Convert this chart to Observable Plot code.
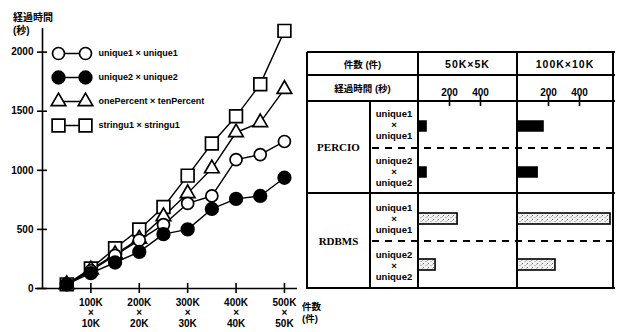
<!DOCTYPE html>
<html><head><meta charset="utf-8">
<script src="https://cdn.jsdelivr.net/npm/d3@7"></script>
<script src="https://cdn.jsdelivr.net/npm/@observablehq/plot@0.6"></script>
<style>
body{margin:0;background:#fff;}
#c{position:relative;width:620px;height:332px;overflow:hidden;background:#fff;font-family:"Liberation Sans","Noto Sans CJK JP",sans-serif;color:#000;}
#c svg{position:absolute;}
.t{position:absolute;white-space:pre;text-align:center;transform:translate(-50%,-50%);font-weight:bold;}
.h{position:absolute;height:1.6px;background:#000;}
.v{position:absolute;width:1.6px;background:#000;}
.d{position:absolute;height:2px;background:repeating-linear-gradient(to right,#000 0 7px,transparent 7px 13px);}
</style></head><body><div id="c"></div>
<script>
// ---------- data: left line chart ----------
const xRecords = [50, 100, 150, 200, 250, 300, 350, 400, 450, 500]; // thousand records
const unique1Times   = [35, 150, 280, 410, 540, 720, 783, 1090, 1133, 1244];
const unique2Times   = [35, 130, 220, 310, 460, 500, 673, 758, 783, 937];
const onePercentTimes = [35, 160, 290, 420, 610, 805, 1015, 1320, 1405, 1687];
const stringu1Times  = [35, 170, 340, 500, 690, 955, 1227, 1457, 1729, 2180];
const seriesNames = ["unique1 × unique1", "unique2 × unique2", "onePercent × tenPercent", "stringu1 × stringu1"];
const yTicks = [0, 500, 1000, 1500, 2000];
const xTicks = [100, 200, 300, 400, 500];
const xTickLabels = ["100K\n×\n10K", "200K\n×\n20K", "300K\n×\n30K", "400K\n×\n40K", "500K\n×\n50K"];

// ---------- data: right table ----------
const sizes = ["50K×5K", "100K×10K"];
const systems = ["PERCIO", "RDBMS"];
const queries = ["unique1\n×\nunique1", "unique2\n×\nunique2"];
const percio50K = [52, 52];
const percio100K = [168, 130];
const rdbms50K = [252, 110];
const rdbms100K = [600, 245];
const barTicks = [200, 400];

const root = document.getElementById("c");
const FONT = "'Liberation Sans','Noto Sans CJK JP',sans-serif";

// ---------- left chart ----------
const W1 = 320, H1 = 332, mL = 42, mR = 23, mT = 28, mB = 44;
const frameW = W1 - mL - mR, frameH = H1 - mT - mB;
const seriesValues = [unique1Times, unique2Times, onePercentTimes, stringu1Times];
const rows = [];
seriesNames.forEach((name, si) => seriesValues[si].forEach((v, i) => rows.push({series: name, x: xRecords[i], y: v})));
const styleOf = {
  "unique1 × unique1": {symbol: "circle", r: 6, fill: "white"},
  "unique2 × unique2": {symbol: "circle", r: 6.3, fill: "black"},
  "onePercent × tenPercent": {symbol: "triangle", r: 5.4, fill: "white"},
  "stringu1 × stringu1": {symbol: "square", r: 7.2, fill: "white"}
};
const drawOrder = ["stringu1 × stringu1", "onePercent × tenPercent", "unique1 × unique1", "unique2 × unique2"];

const left = Plot.plot({
  width: W1, height: H1, marginLeft: mL, marginRight: mR, marginTop: mT, marginBottom: mB,
  x: {domain: [0, 527], axis: null},
  y: {domain: [0, 2200], axis: null},
  style: {background: "transparent", fontFamily: FONT, overflow: "visible"},
  marks: [
    Plot.ruleX([0], {stroke: "black", strokeWidth: 1.6}),
    Plot.ruleY([0], {stroke: "black", strokeWidth: 1.6, insetLeft: -7}),
    Plot.ruleY(yTicks, {insetLeft: -5, insetRight: frameW - 5, stroke: "black", strokeWidth: 1.6}),
    Plot.text(yTicks, {y: d => d, text: d => String(d), frameAnchor: "left", dx: -9, textAnchor: "end", fontSize: 10, fontWeight: "bold", fill: "black"}),
    Plot.ruleX(xTicks, {insetTop: frameH - 5, insetBottom: -5, stroke: "black", strokeWidth: 1.6}),
    Plot.text(xTicks, {x: d => d, text: (d, i) => xTickLabels[i], frameAnchor: "bottom", dy: 10, lineAnchor: "top", lineHeight: 1.05, fontSize: 10, fontWeight: "bold", fill: "black"}),
    Plot.line(rows, {x: "x", y: "y", z: "series", stroke: "black", strokeWidth: 1.4}),
    ...drawOrder.map(name => Plot.dot(rows.filter(r => r.series === name), {
      x: "x", y: "y", symbol: styleOf[name].symbol, r: styleOf[name].r,
      fill: styleOf[name].fill, stroke: "black", strokeWidth: 1.7
    }))
  ]
});
left.style.left = "0px"; left.style.top = "0px";
root.appendChild(left);

// legend (its own small plot)
const legRows = [];
seriesNames.forEach(name => { legRows.push({series: name, x: 0}); legRows.push({series: name, x: 1}); });
const legend = Plot.plot({
  width: 320, height: 140, marginLeft: 58, marginRight: 235, marginTop: 53, marginBottom: 15,
  x: {domain: [0, 1], axis: null},
  y: {type: "point", domain: seriesNames, padding: 0, axis: null},
  style: {background: "transparent", fontFamily: FONT, overflow: "visible"},
  marks: [
    Plot.line(legRows, {x: "x", y: "series", z: "series", stroke: "black", strokeWidth: 1.4}),
    ...seriesNames.map(name => Plot.dot(legRows.filter(r => r.series === name), {
      x: "x", y: "series", symbol: styleOf[name].symbol, r: styleOf[name].r,
      fill: styleOf[name].fill, stroke: "black", strokeWidth: 1.7
    })),
    Plot.text(seriesNames, {x: () => 1, y: d => d, text: d => d, dx: 13, textAnchor: "start", fontSize: 9, fontWeight: "bold", fill: "black"})
  ]
});
legend.style.left = "0px"; legend.style.top = "0px";
root.appendChild(legend);

function addText(txt, x, y, extra) {
  const el = document.createElement("div");
  el.className = "t";
  el.textContent = txt;
  el.style.left = x + "px"; el.style.top = y + "px";
  Object.assign(el.style, extra || {});
  root.appendChild(el);
  return el;
}
// left axis titles
addText("経過時間\n(秒)", 13, 11, {transform: "none", textAlign: "left", fontSize: "10px", lineHeight: "13px"});
addText("件数\n(件)", 302, 301, {transform: "none", textAlign: "left", fontSize: "9.5px", lineHeight: "12px"});

// ---------- right table ----------
const T = {left: 307, right: 613, top: 52, r1: 75, r2: 101, mid: 193, bottom: 288, c1: 370, c2: 418, c3: 517};
const pxPerUnit = 0.155;
const colDefs = [
  {size: sizes[0], left: T.c2, width: T.c3 - T.c2, percio: percio50K, rdbms: rdbms50K},
  {size: sizes[1], left: T.c3, width: T.right - T.c3, percio: percio100K, rdbms: rdbms100K}
];
const keys = [];
systems.forEach(s => queries.forEach((q, qi) => keys.push(s + "|" + qi)));

colDefs.forEach((col, ci) => {
  const data = [];
  col.percio.forEach((v, qi) => data.push({system: "PERCIO", key: "PERCIO|" + qi, value: v}));
  col.rdbms.forEach((v, qi) => data.push({system: "RDBMS", key: "RDBMS|" + qi, value: v}));
  const pid = "stip" + ci;
  const h = T.bottom - T.r1;
  const mTop = T.r2 - T.r1;
  const fh = h - mTop;
  const svg = Plot.plot({
    width: col.width, height: h, marginLeft: 0, marginRight: 0, marginTop: mTop, marginBottom: 0,
    x: {domain: [0, col.width / pxPerUnit], axis: null},
    y: {type: "band", domain: keys, padding: 0, axis: null},
    style: {background: "transparent", fontFamily: FONT, overflow: "visible"},
    marks: [
      Plot.ruleX(barTicks, {insetTop: -6, insetBottom: fh - 5, stroke: "black", strokeWidth: 1.6}),
      Plot.text(barTicks, {x: d => d, text: d => String(d), frameAnchor: "top", dy: -13, fontSize: 10, fontWeight: "bold", fill: "black"}),
      Plot.barX(data.filter(d => d.system === "PERCIO"), {x: "value", y: "key", fill: "black", stroke: "black", strokeWidth: 1.5, insetTop: 18, insetBottom: 18}),
      Plot.barX(data.filter(d => d.system === "RDBMS"), {x: "value", y: "key", fill: `url(#${pid})`, stroke: "black", strokeWidth: 1.6, insetTop: 18, insetBottom: 17})
    ]
  });
  const ns = "http://www.w3.org/2000/svg";
  const defs = document.createElementNS(ns, "defs");
  defs.innerHTML = `<pattern id="${pid}" width="5" height="4" patternUnits="userSpaceOnUse">
    <rect width="5" height="4" fill="#f2f2f2"/>
    <rect x="0" y="0" width="1" height="1" fill="#6a6a6a"/>
    <rect x="2.5" y="2" width="1" height="1" fill="#8a8a8a"/>
    <rect x="4" y="1" width="1" height="1" fill="#b0b0b0"/></pattern>`;
  svg.insertBefore(defs, svg.firstChild);
  svg.style.left = col.left + "px"; svg.style.top = T.r1 + "px";
  root.appendChild(svg);
  addText(col.size, col.left + col.width / 2, (T.top + T.r1) / 2, {fontSize: "10.5px", letterSpacing: "1px"});
});

// header texts
addText("件数 (件)", (T.left + T.c2) / 2, (T.top + T.r1) / 2, {fontSize: "9.5px"});
addText("経過時間 (秒)", (T.left + T.c2) / 2, (T.r1 + T.r2) / 2, {fontSize: "9.5px"});
// system labels
addText(systems[0], (T.left + T.c1) / 2, (T.r2 + T.mid) / 2, {fontFamily: "'Liberation Serif',serif", fontSize: "11px"});
addText(systems[1], (T.left + T.c1) / 2, (T.mid + T.bottom) / 2, {fontFamily: "'Liberation Serif',serif", fontSize: "11px"});
// query labels
const rowH = (T.bottom - T.r2) / 4;
keys.forEach((k, i) => {
  const qi = +k.split("|")[1];
  addText(queries[qi], (T.c1 + T.c2) / 2, T.r2 + rowH * (i + 0.5), {fontSize: "9.5px", lineHeight: "11px"});
});

// grid lines
function hLine(x1, x2, y) { const e = document.createElement("div"); e.className = "h"; e.style.left = x1 + "px"; e.style.width = (x2 - x1 + 1.6) + "px"; e.style.top = (y - 0.8) + "px"; root.appendChild(e); }
function vLine(x, y1, y2) { const e = document.createElement("div"); e.className = "v"; e.style.left = (x - 0.8) + "px"; e.style.top = y1 + "px"; e.style.height = (y2 - y1 + 0.8) + "px"; root.appendChild(e); }
function dLine(x1, x2, y) { const e = document.createElement("div"); e.className = "d"; e.style.left = x1 + "px"; e.style.width = (x2 - x1) + "px"; e.style.top = (y - 1) + "px"; root.appendChild(e); }
[T.top, T.r1, T.r2, T.mid, T.bottom].forEach(y => hLine(T.left, T.right, y));
vLine(T.left, T.top, T.bottom); vLine(T.right, T.top, T.bottom);
vLine(T.c2, T.top, T.bottom); vLine(T.c3, T.top, T.bottom);
vLine(T.c1, T.r2, T.bottom);
dLine(T.c1 + 2, T.right, T.r2 + rowH);
dLine(T.c1 + 2, T.right, T.r2 + rowH * 3);
</script></body></html>
